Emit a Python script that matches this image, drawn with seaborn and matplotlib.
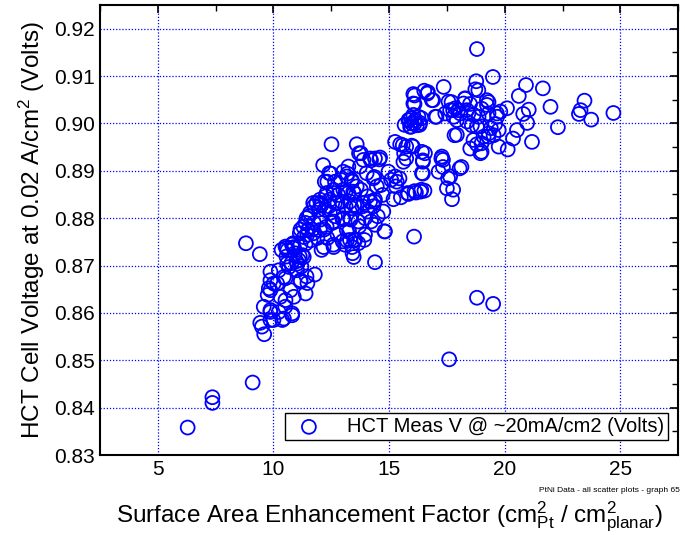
import numpy as np
import pandas as pd
import matplotlib
matplotlib.use("Agg")
import matplotlib.pyplot as plt
import seaborn as sns
from matplotlib.ticker import MultipleLocator

# surface area enhancement factor (cm2 Pt / cm2 planar) and HCT cell voltage (V)
sae = [
    18.80, 19.49, 18.77, 18.73, 17.36, 16.05, 16.52, 16.66, 16.85, 16.05,
    20.92, 21.65, 20.61, 21.98, 23.45, 23.28, 23.21, 23.74, 24.70, 22.30,
    21.04, 20.80, 20.97, 21.18, 20.10, 20.53, 20.36, 20.13, 19.81, 19.67,
    19.59, 19.74, 19.52, 19.31, 19.09, 18.95, 18.87, 19.23, 19.23, 18.29,
    18.22, 18.37, 18.08, 17.86, 17.64, 17.57, 17.79, 17.93, 18.37, 18.58,
    18.66, 17.43, 17.00, 17.83, 18.51, 18.95, 18.80, 15.84, 15.98, 15.91,
    16.13, 16.20, 16.34, 16.05, 16.27, 15.95,
    15.26, 15.48, 15.98, 15.65, 15.74, 16.42, 15.62, 16.46, 16.42, 17.28,
    17.33, 17.14, 17.64, 18.05, 17.50, 17.72, 16.53, 16.36, 16.16, 15.84,
    15.51, 15.19, 15.33, 15.26, 16.08,
    12.51, 13.60, 13.70, 13.89, 14.18, 14.39, 14.61, 12.15, 12.41, 12.22,
    12.66, 13.02, 13.24, 13.17, 13.38, 13.74, 14.03, 14.32, 14.97, 14.47,
    13.60, 13.45, 13.24, 13.02, 12.80, 12.59, 12.30, 12.01, 11.86, 12.08,
    12.44, 12.66, 12.95, 13.31, 13.38, 13.60, 13.89, 14.18, 14.39, 14.32,
    14.75, 13.96, 13.67, 13.31, 13.02, 12.66, 12.44, 12.22, 11.72, 11.58,
    11.43, 11.29, 11.50, 11.72, 12.01, 12.30, 12.59, 13.17, 13.31, 13.53,
    13.67, 13.96, 14.39, 14.82, 13.09, 13.42, 12.59, 12.08, 14.39, 11.14,
    10.85, 10.56, 10.35, 10.56, 10.92, 11.14, 10.99, 10.78, 11.21, 11.79,
    11.43,
    6.29, 7.36, 7.36, 9.10, 9.43, 9.50, 9.60, 9.87, 10.00, 10.38,
    10.81, 10.51, 9.87, 9.87, 10.16,
    8.81, 9.41, 9.87, 9.80, 9.75, 10.01, 10.23, 10.45, 10.67, 10.60,
    10.88, 11.03, 10.74, 10.30, 10.52, 10.88, 11.39, 11.47, 11.17, 10.81,
    10.45, 10.23, 9.87, 9.58, 9.87, 11.10, 11.25, 11.39, 11.32,
    14.22, 14.58, 13.78, 12.48, 13.20, 12.33, 12.91, 13.40, 14.36, 14.65,
    14.72, 14.36, 14.07, 13.78, 13.49, 13.12, 12.62, 12.26, 12.04, 11.75,
    11.97, 12.40, 12.77, 13.12, 13.49, 13.85, 14.07, 14.22, 14.51, 14.80,
    11.53, 11.39, 11.75, 12.04, 11.68, 12.19, 12.55, 12.99, 13.34, 13.71,
    13.27, 12.77, 12.33, 11.90, 11.46, 11.17, 10.80, 11.17, 10.52, 12.99,
    13.49, 13.93,
    16.10, 16.68, 16.90, 16.10, 17.70, 18.86, 18.28, 18.50, 19.30, 17.99,
    17.77, 18.43, 19.00, 19.30, 19.66, 15.88, 16.10, 15.95, 16.32, 15.67,
    16.40, 17.05, 17.93, 18.65, 19.00, 19.30, 18.80, 19.40, 19.00, 19.74,
    15.59, 16.03, 16.46, 15.74, 16.55, 17.26, 17.33, 18.13, 17.55, 16.46,
    15.45, 15.09, 15.30, 16.39, 16.10, 15.80, 17.77,
    10.88, 11.31, 10.59, 11.02, 10.52, 11.17, 11.60, 12.17, 12.60, 13.18,
    13.40, 13.47, 17.60, 18.80, 19.50,
]
volts = [
    0.9157, 0.9098, 0.9089, 0.9072, 0.9077, 0.9062, 0.9069, 0.9063, 0.9049, 0.9042,
    0.9081, 0.9074, 0.9058, 0.9035, 0.9048, 0.9028, 0.9020, 0.9008, 0.9022, 0.8992,
    0.9029, 0.9020, 0.9001, 0.8961, 0.9032, 0.8986, 0.8968, 0.8945, 0.9025, 0.9014,
    0.8999, 0.8986, 0.8975, 0.8979, 0.8972, 0.8994, 0.9014, 0.9049, 0.9039, 0.9053,
    0.9042, 0.9028, 0.9021, 0.9032, 0.9028, 0.9046, 0.9014, 0.9007, 0.9004, 0.8996,
    0.9018, 0.9021, 0.9014, 0.8975, 0.8947, 0.8937, 0.8956, 0.9007, 0.9000, 0.8993,
    0.9007, 0.8996, 0.9001, 0.9018, 0.9014, 0.9011,
    0.8961, 0.8956, 0.8953, 0.8937, 0.8951, 0.8940, 0.8919, 0.8919, 0.8895, 0.8930,
    0.8923, 0.8898, 0.8888, 0.8905, 0.8863, 0.8840, 0.8858, 0.8856, 0.8854, 0.8851,
    0.8844, 0.8840, 0.8877, 0.8888, 0.8761,
    0.8956, 0.8956, 0.8937, 0.8923, 0.8926, 0.8926, 0.8928, 0.8912, 0.8895, 0.8877,
    0.8877, 0.8898, 0.8909, 0.8888, 0.8881, 0.8909, 0.8895, 0.8884, 0.8898, 0.8867,
    0.8867, 0.8856, 0.8853, 0.8860, 0.8849, 0.8860, 0.8853, 0.8839, 0.8832, 0.8828,
    0.8839, 0.8832, 0.8835, 0.8835, 0.8821, 0.8825, 0.8832, 0.8835, 0.8839, 0.8825,
    0.8814, 0.8800, 0.8793, 0.8800, 0.8800, 0.8804, 0.8811, 0.8818, 0.8832, 0.8811,
    0.8800, 0.8782, 0.8775, 0.8768, 0.8775, 0.8782, 0.8793, 0.8775, 0.8754, 0.8754,
    0.8747, 0.8765, 0.8786, 0.8772, 0.8744, 0.8726, 0.8744, 0.8733, 0.8707, 0.8768,
    0.8747, 0.8737, 0.8733, 0.8719, 0.8726, 0.8719, 0.8709, 0.8705, 0.8698, 0.8681,
    0.8677,
    0.8358, 0.8422, 0.8410, 0.8453, 0.8579, 0.8571, 0.8555, 0.8606, 0.8585, 0.8585,
    0.8599, 0.8613, 0.8648, 0.8669, 0.8662,
    0.8747, 0.8724, 0.8687, 0.8652, 0.8638, 0.8662, 0.8690, 0.8676, 0.8697, 0.8732,
    0.8736, 0.8704, 0.8648, 0.8634, 0.8627, 0.8634, 0.8641, 0.8663, 0.8666, 0.8595,
    0.8588, 0.8602, 0.8602, 0.8613, 0.8585, 0.8711, 0.8722, 0.8746, 0.8760,
    0.8922, 0.8924, 0.8937, 0.8894, 0.8894, 0.8877, 0.8881, 0.8877, 0.8887, 0.8870,
    0.8849, 0.8835, 0.8846, 0.8860, 0.8853, 0.8856, 0.8853, 0.8846, 0.8832, 0.8825,
    0.8818, 0.8825, 0.8832, 0.8825, 0.8828, 0.8825, 0.8814, 0.8793, 0.8804, 0.8772,
    0.8804, 0.8790, 0.8790, 0.8797, 0.8776, 0.8776, 0.8790, 0.8797, 0.8797, 0.8783,
    0.8772, 0.8765, 0.8758, 0.8758, 0.8765, 0.8776, 0.8744, 0.8744, 0.8740, 0.8751,
    0.8754, 0.8754,
    0.9059, 0.9066, 0.9049, 0.9041, 0.9045, 0.9070, 0.9052, 0.9041, 0.9045, 0.9028,
    0.9028, 0.9021, 0.9031, 0.9021, 0.9021, 0.9007, 0.9000, 0.8993, 0.8997, 0.8997,
    0.9011, 0.9014, 0.8976, 0.8965, 0.8958, 0.8972, 0.8993, 0.8990, 0.8940, 0.8951,
    0.8954, 0.8951, 0.8922, 0.8926, 0.8937, 0.8926, 0.8908, 0.8908, 0.8884, 0.8894,
    0.8884, 0.8881, 0.8867, 0.8860, 0.8857, 0.8853, 0.8860,
    0.8739, 0.8718, 0.8704, 0.8690, 0.8673, 0.8669, 0.8753, 0.8739, 0.8739, 0.8753,
    0.8739, 0.8718, 0.8502, 0.8632, 0.8619,
]

series_label = "HCT Meas V @ ~20mA/cm2 (Volts)"
footnote = "PtNi Data - all scatter plots - graph 65"

df = pd.DataFrame({"sae": sae, "volts": volts})

sns.set_style("white")
plt.rcParams["font.family"] = ["Liberation Sans", "DejaVu Sans"]
plt.rcParams["mathtext.fontset"] = "custom"
plt.rcParams["mathtext.rm"] = "Liberation Sans"
plt.rcParams["mathtext.it"] = "Liberation Sans"
plt.rcParams["mathtext.default"] = "regular"
plt.rcParams["text.color"] = "black"
plt.rcParams["axes.labelcolor"] = "black"
plt.rcParams["xtick.color"] = "black"
plt.rcParams["ytick.color"] = "black"

fig = plt.figure(figsize=(6.85, 5.35), dpi=100)
ax = fig.add_axes([0.146, 0.1495, 0.844, 0.8412])

sns.scatterplot(
    data=df, x="sae", y="volts", ax=ax,
    marker="o", s=100, facecolor="none", edgecolor="#0000ff",
    linewidth=1.3, label=series_label,
)

ax.set_xlim(2.5, 27.5)
ax.set_ylim(0.83, 0.925)
ax.xaxis.set_major_locator(MultipleLocator(5))
ax.xaxis.set_minor_locator(MultipleLocator(2.5))
ax.yaxis.set_major_locator(MultipleLocator(0.01))
ax.yaxis.set_minor_locator(MultipleLocator(0.005))
ax.yaxis.set_major_formatter(matplotlib.ticker.FormatStrFormatter("%.2f"))

ax.grid(True, which="major", color="#0000ff", linestyle=(0, (1, 1.5)), linewidth=0.9)
ax.set_axisbelow(True)

ax.tick_params(which="both", direction="in", top=True, right=True,
               labelsize=15, color="black", labelcolor="black")
ax.tick_params(which="major", length=6, width=1.2)
ax.tick_params(which="minor", length=4, width=1.0)
for sp in ax.spines.values():
    sp.set_color("black")
    sp.set_linewidth(1.5)

ax.set_xlabel("Surface Area Enhancement Factor (cm$^{2}_{Pt}$ / cm$^{2}_{planar}$)",
              fontsize=17.5, labelpad=15)
ax.set_ylabel("HCT Cell Voltage at 0.02 A/cm$^2$ (Volts)", fontsize=17.5, labelpad=5)

leg = ax.legend(loc="lower right", bbox_to_anchor=(0.983, 0.033),
                borderaxespad=0, fancybox=False, framealpha=1,
                edgecolor="black", fontsize=14.5, handletextpad=0.9,
                borderpad=0.2)
leg.get_frame().set_linewidth(1.0)

fig.text(0.993, 0.077, footnote, ha="right", va="bottom", fontsize=6)

fig.savefig("out.png", dpi=100)
